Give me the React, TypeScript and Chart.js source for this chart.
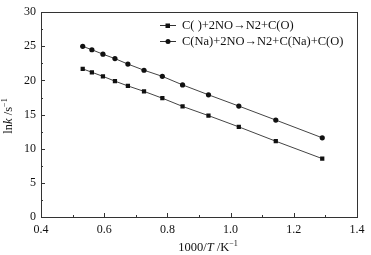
import React, { useEffect, useRef } from "react";
import { Chart, registerables } from "chart.js";

Chart.register(...registerables);

const invT = [0.532, 0.561, 0.596, 0.634, 0.675, 0.726, 0.784, 0.848, 0.93, 1.026, 1.143, 1.29];
const lnkC = [21.7, 21.2, 20.6, 19.9, 19.2, 18.4, 17.4, 16.2, 14.85, 13.2, 11.1, 8.55];
const lnkCNa = [25.0, 24.5, 23.85, 23.2, 22.4, 21.5, 20.6, 19.35, 17.9, 16.25, 14.2, 11.6];
const seriesNames = ["C( )+2NO\u2192N2+C(O)", "C(Na)+2NO\u2192N2+C(Na)+C(O)"];
const xTicks = [0.4, 0.6, 0.8, 1.0, 1.2, 1.4];
const yTicks = [0, 5, 10, 15, 20, 25, 30];

const FONT = "'Liberation Serif', 'Times New Roman', serif";
const INK = "#111";

type Seg = { t: string; it?: boolean; sup?: boolean };
const xTitle: Seg[] = [{ t: "1000/" }, { t: "T", it: true }, { t: " /K" }, { t: "\u22121", sup: true }];
const yTitle: Seg[] = [{ t: "ln" }, { t: "k", it: true }, { t: " /s" }, { t: "\u22121", sup: true }];

function segFont(s: Seg, size: number) {
  const sz = s.sup ? size * 0.65 : size;
  return `${s.it ? "italic " : ""}${sz}px ${FONT}`;
}
function drawSegs(ctx: CanvasRenderingContext2D, segs: Seg[], size: number, cx: number, cy: number) {
  let total = 0;
  for (const s of segs) {
    ctx.font = segFont(s, size);
    total += ctx.measureText(s.t).width;
  }
  let x = cx - total / 2;
  ctx.textBaseline = "alphabetic";
  ctx.textAlign = "left";
  for (const s of segs) {
    ctx.font = segFont(s, size);
    ctx.fillText(s.t, x, cy + (s.sup ? -size * 0.4 : 0) + size * 0.35);
    x += ctx.measureText(s.t).width;
  }
}

const framePlugin = {
  id: "frameAndDecor",
  afterDatasetsDraw(chart: any) {
    const ctx: CanvasRenderingContext2D = chart.ctx;
    const { left, right, top, bottom } = chart.chartArea;
    const xs = chart.scales.x;
    const ys = chart.scales.y;
    ctx.save();
    ctx.strokeStyle = "#333";
    ctx.lineWidth = 1;
    ctx.strokeRect(Math.round(left) + 0.5, Math.round(top) + 0.5, Math.round(right - left), Math.round(bottom - top));
    ctx.beginPath();
    for (let v = 0.4; v <= 1.4001; v += 0.1) {
      const px = Math.round(xs.getPixelForValue(v)) + 0.5;
      const major = Math.round(v * 10) % 2 === 0;
      const len = major ? 4 : 2;
      ctx.moveTo(px, bottom);
      ctx.lineTo(px, bottom - len);
    }
    for (let v = 0; v <= 30.001; v += 2.5) {
      const py = Math.round(ys.getPixelForValue(v)) + 0.5;
      const major = Math.round(v * 2) % 10 === 0;
      const len = major ? 4 : 2;
      ctx.moveTo(left, py);
      ctx.lineTo(left + len, py);
    }
    ctx.stroke();

    // legend
    const rows = [
      { y: 25, style: "rect" },
      { y: 41, style: "circle" },
    ];
    rows.forEach((r, i) => {
      ctx.strokeStyle = "#333";
      ctx.beginPath();
      ctx.moveTo(160, r.y + 0.5);
      ctx.lineTo(176, r.y + 0.5);
      ctx.stroke();
      ctx.fillStyle = INK;
      if (r.style === "rect") {
        ctx.fillRect(165.5, r.y - 1.5, 4.5, 4.5);
      } else {
        ctx.beginPath();
        ctx.arc(168, r.y + 0.5, 2.5, 0, Math.PI * 2);
        ctx.fill();
      }
      ctx.font = `12.5px ${FONT}`;
      ctx.textAlign = "left";
      ctx.textBaseline = "middle";
      ctx.fillText(seriesNames[i], 182, r.y + 0.5);
    });

    // axis titles
    ctx.fillStyle = INK;
    drawSegs(ctx, xTitle, 12.5, (left + right) / 2 + 9, 247);
    ctx.save();
    ctx.translate(8, 116);
    ctx.rotate(-Math.PI / 2);
    drawSegs(ctx, yTitle, 12.5, 0, 0);
    ctx.restore();
    ctx.restore();
  },
};

export default function App() {
  const ref = useRef<HTMLCanvasElement>(null);
  useEffect(() => {
    if (!ref.current) return;
    const chart = new Chart(ref.current, {
      type: "line",
      data: {
        datasets: [
          {
            label: seriesNames[0],
            data: invT.map((x, i) => ({ x, y: lnkC[i] })),
            borderColor: "#444",
            borderWidth: 1,
            pointStyle: "rect",
            pointRadius: 3,
            pointBackgroundColor: INK,
            pointBorderColor: INK,
            pointBorderWidth: 0,
            tension: 0,
          },
          {
            label: seriesNames[1],
            data: invT.map((x, i) => ({ x, y: lnkCNa[i] })),
            borderColor: "#444",
            borderWidth: 1,
            pointStyle: "circle",
            pointRadius: 2.6,
            pointBackgroundColor: INK,
            pointBorderColor: INK,
            pointBorderWidth: 0,
            tension: 0,
          },
        ],
      },
      options: {
        animation: false,
        responsive: false,
        layout: { padding: { top: 10, right: 14, left: 0, bottom: 0 } },
        plugins: { legend: { display: false }, tooltip: { enabled: false } },
        scales: {
          x: {
            type: "linear",
            min: 0.4,
            max: 1.4,
            afterBuildTicks: (s: any) => {
              s.ticks = xTicks.map((v) => ({ value: v }));
            },
            afterFit: (s: any) => {
              s.height = 38;
            },
            grid: { display: false, drawTicks: false },
            border: { display: false },
            ticks: {
              color: INK,
              padding: 6,
              font: { family: FONT, size: 12 },
              callback: (v: any) => Number(v).toFixed(1),
            },
          },
          y: {
            type: "linear",
            min: 0,
            max: 30,
            afterBuildTicks: (s: any) => {
              s.ticks = yTicks.map((v) => ({ value: v }));
            },
            afterFit: (s: any) => {
              s.width = 41;
            },
            grid: { display: false, drawTicks: false },
            border: { display: false },
            ticks: {
              color: INK,
              padding: 5,
              font: { family: FONT, size: 12 },
              callback: (v: any) => String(v),
            },
          },
        },
      },
      plugins: [framePlugin],
    });
    return () => chart.destroy();
  }, []);
  return (
    <div style={{ position: "fixed", left: 0, top: 0, width: 371, height: 255, background: "#fff" }}>
      <canvas ref={ref} width={371} height={255} style={{ width: 371, height: 255 }} />
    </div>
  );
}
